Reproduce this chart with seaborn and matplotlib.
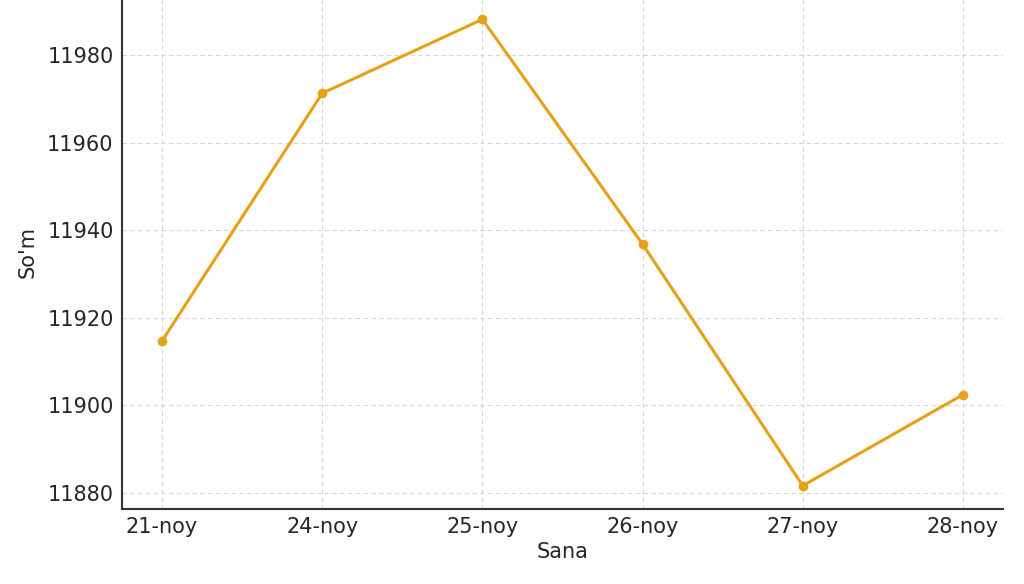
import pandas as pd
import seaborn as sns
import matplotlib.pyplot as plt

# Values
dates = ['21-noy', '24-noy', '25-noy', '26-noy', '27-noy', '28-noy']
rates = [11914.7, 11971.3, 11988.2, 11936.8, 11881.6, 11902.4]

df = pd.DataFrame({'Sana': dates, "So'm": rates})

sns.set_style("white")
plt.rcParams['font.family'] = ['DejaVu Sans']

fig = plt.figure(figsize=(10.24, 5.84), dpi=100)
ax = fig.add_axes([122 / 1024, 75 / 584, 881 / 1024, 513 / 584])

sns.lineplot(data=df, x='Sana', y="So'm", marker='o', color='#E5A117',
             linewidth=2.2, markersize=7, markeredgewidth=0, ax=ax, sort=False)

ax.set_yticks([11880, 11900, 11920, 11940, 11960, 11980])
ax.grid(True, linestyle=(0, (4, 3)), color='#d5d5d5', linewidth=0.8)
ax.tick_params(direction='in', length=5, width=1, colors='#262626',
               labelsize=15, pad=6)
for side in ['top', 'right']:
    ax.spines[side].set_visible(False)
for side in ['left', 'bottom']:
    ax.spines[side].set_color('#333333')
    ax.spines[side].set_linewidth(1.5)

ax.set_xlabel('Sana', fontsize=15, color='#262626', labelpad=3)
ax.set_ylabel("So'm", fontsize=15, color='#262626', labelpad=7)

fig.savefig('out.png', dpi=100)
